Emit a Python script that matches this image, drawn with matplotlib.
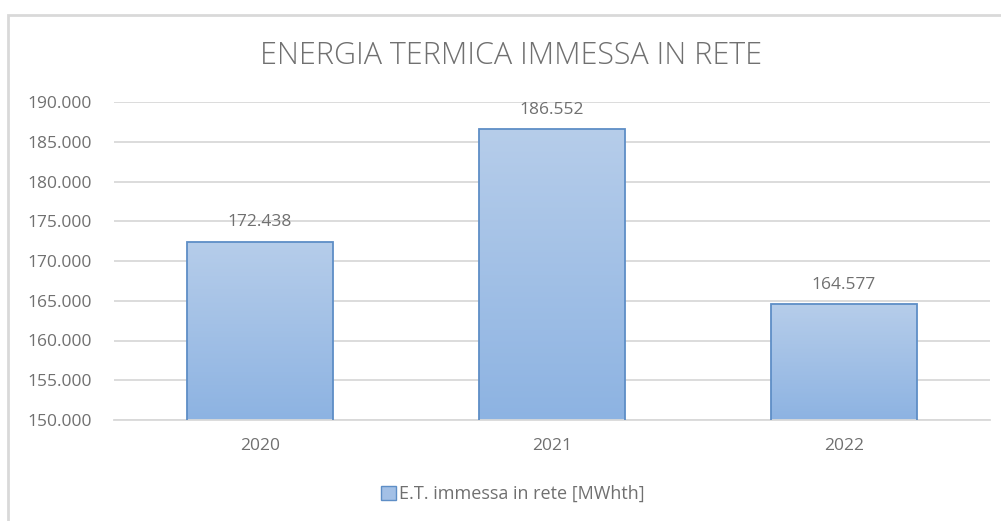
import matplotlib.pyplot as plt
import numpy as np
from matplotlib.colors import LinearSegmentedColormap
from matplotlib.patches import Rectangle, Patch

# data
years = ["2020", "2021", "2022"]
energia = [172438, 186552, 164577]
series_name = "E.T. immessa in rete [MWhth]"
titolo = "ENERGIA TERMICA IMMESSA IN RETE"
y_ticks = [150000, 155000, 160000, 165000, 170000, 175000, 180000, 185000, 190000]

def fmt_it(v):
    # thousands separator with a dot, italian style
    return f"{v:,.0f}".replace(",", ".")

plt.rcParams['font.family'] = ['Open Sans', 'DejaVu Sans']
grigio = "#707070"

fig = plt.figure(figsize=(10.01, 5.21), dpi=100)
ax = fig.add_axes([114/1001, 101/521, 876/1001, 318/521])

x = np.arange(len(years))
bars = ax.bar(x, energia, width=0.5, color="none", edgecolor="#5e8ec6", linewidth=1.3, zorder=3)

# gradient fill, lighter on top
cmap = LinearSegmentedColormap.from_list("grad", ["#8db3e2", "#b6cdea"])
grad = np.linspace(0, 1, 256).reshape(-1, 1)
for b in bars:
    x0, w, h = b.get_x(), b.get_width(), b.get_height()
    im = ax.imshow(grad, cmap=cmap, origin="lower", aspect="auto",
                   extent=[x0, x0 + w, 150000, h], zorder=2)
    im.set_clip_path(b)
    ax.text(x0 + w / 2, h + 1400, fmt_it(h), ha="center", va="bottom",
            fontsize=12.5, color=grigio)

ax.set_xlim(-0.5, 2.5)
ax.set_ylim(150000, 190000)
ax.set_yticks(y_ticks)
ax.set_yticklabels([fmt_it(v) for v in y_ticks])
ax.set_xticks(x)
ax.set_xticklabels(years)
ax.tick_params(axis="both", length=0, labelsize=12.5, labelcolor=grigio)
ax.tick_params(axis="y", pad=16)
ax.tick_params(axis="x", pad=13)
ax.grid(axis="y", color="#d9d9d9", linewidth=1.3, zorder=0)
ax.set_axisbelow(True)
for s in ["top", "right", "left"]:
    ax.spines[s].set_visible(False)
ax.spines["bottom"].set_color("#d9d9d9")
ax.spines["bottom"].set_linewidth(1.3)

fig.text(511/1001, 1 - 56/521, titolo, ha="center", va="center", fontsize=22,
         fontweight="light", color=grigio)

handle = Patch(facecolor="#a3c0e6", edgecolor="#5e8ec6")
fig.legend([handle], [series_name], loc="center", bbox_to_anchor=(513/1001, 1 - 494/521),
           frameon=False, fontsize=13, labelcolor=grigio, handlelength=0.8, handleheight=0.8,
           handletextpad=0.2)

# outer chart border (only top and left are inside the picture)
fig.patches.append(Rectangle((8/1001, -0.1), 1.2, 1 - 15/521 + 0.1, transform=fig.transFigure,
                             fill=False, edgecolor="#d9d9d9", linewidth=2))

fig.savefig("out.png", dpi=100)
